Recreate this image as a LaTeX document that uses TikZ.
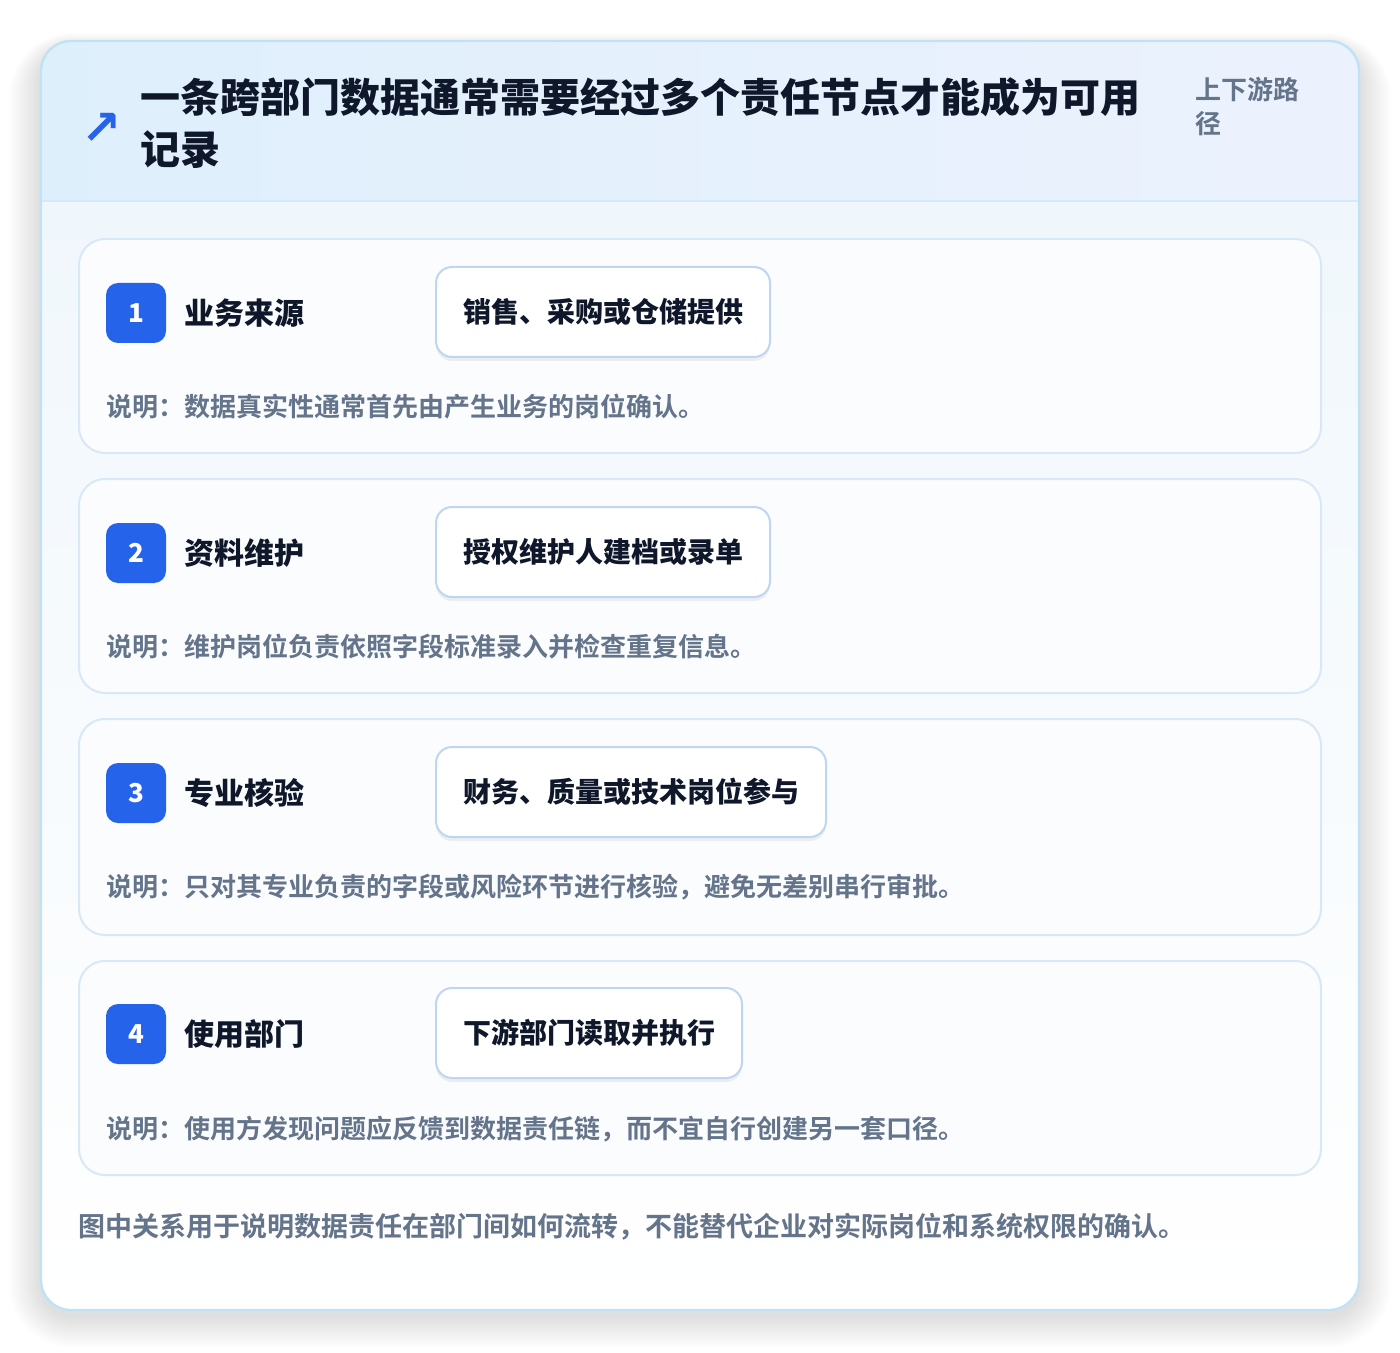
\documentclass[tikz,border=0pt]{standalone}
\usepackage{fontspec}
\setmainfont{Noto Sans CJK SC}[BoldFont=* Bold]
\newfontfamily\heavyfont{Noto Sans CJK SC Black}
\newfontfamily\symfont{DejaVu Sans}[BoldFont=* Bold]
\usetikzlibrary{positioning,shadows}

\definecolor{inkdark}{HTML}{0F172A}
\definecolor{inkmuted}{HTML}{64748B}
\definecolor{accentblue}{HTML}{2563EB}
\definecolor{hdrleft}{HTML}{DEEFFC}
\definecolor{hdrright}{HTML}{ECF2FD}
\definecolor{bodytop}{HTML}{F0F7FC}
\definecolor{frameline}{HTML}{BFE2F5}
\definecolor{cardfill}{HTML}{FAFCFE}
\definecolor{cardline}{HTML}{D8E8F6}
\definecolor{chipline}{HTML}{BED6F1}

\tikzset{
  stepcard/.style={draw=cardline, fill=cardfill, line width=1pt, rounded corners=13pt},
  badgebox/.style={fill=accentblue, text=white, rounded corners=6pt, minimum size=30pt,
    inner sep=0pt, font=\fontsize{13pt}{15pt}\selectfont\heavyfont},
  steplabel/.style={anchor=west, inner sep=0pt, text=inkdark,
    font=\fontsize{15pt}{18pt}\selectfont\heavyfont},
  chipbox/.style={anchor=west, draw=chipline, fill=white, line width=1pt, rounded corners=8pt,
    minimum height=45pt, inner xsep=13.5pt, text=inkdark,
    font=\fontsize{14pt}{17pt}\selectfont\heavyfont,
    drop shadow={shadow xshift=0pt, shadow yshift=-2pt, opacity=0.06, fill=black}},
  notetext/.style={anchor=west, inner sep=0pt, text=inkmuted,
    font=\fontsize{13pt}{16pt}\selectfont\bfseries},
}

\begin{document}
\begin{tikzpicture}[x=0.5pt, y=-0.5pt]
    \useasboundingbox (0,0) rectangle (1400,1352);
    \fill[white] (0,0) rectangle (1400,1352);

    % Soft shadow round the outer frame
    \foreach \g in {1,...,16}
      \fill[black, opacity=0.006, rounded corners=16pt+\g pt]
        (41-2*\g,41-\g+8) rectangle (1359+2*\g,1310+2*\g+6);

    % Outer frame with header band and body
    \begin{scope}
      \clip[rounded corners=15pt] (41,41) rectangle (1359,1310);
      \shade[left color=hdrleft, right color=hdrright] (41,41) rectangle (1359,201);
      \shade[top color=bodytop, bottom color=white] (41,201) rectangle (1359,1310);
      \draw[frameline!70, line width=1pt] (41,201) -- (1359,201);
    \end{scope}
    \draw[frameline, line width=1.2pt, rounded corners=15pt] (41,41) rectangle (1359,1310);

    % Header: icon, title and side tag
    \node[text=accentblue, inner sep=0pt, font=\symfont\bfseries\fontsize{24pt}{24pt}\selectfont] (icon) at (102,129) {↗};
    \node[anchor=north west, inner sep=0pt, align=left, text=inkdark,
      font=\fontsize{20pt}{26pt}\selectfont\heavyfont] (title) at (140,77)
      {一条跨部门数据通常需要经过多个责任节点才能成为可用\\记录};
    \node[anchor=north west, inner sep=0pt, align=left, text=inkmuted,
      font=\fontsize{13pt}{17pt}\selectfont\bfseries] (sidetag) at (1195,77)
      {上下游路\\径};

    % Step 1
    \draw[stepcard] (79,239) rectangle (1321,453);
    \node[badgebox] (badge1) at (136,313) {1};
    \node[steplabel] (label1) at (184,313) {业务来源};
    \node[chipbox] (chip1) at (435,312) {销售、采购或仓储提供};
    \node[notetext] (note1) at (106,407) {说明：数据真实性通常首先由产生业务的岗位确认。};

    % Step 2
    \draw[stepcard] (79,479) rectangle (1321,693);
    \node[badgebox] (badge2) at (136,553) {2};
    \node[steplabel] (label2) at (184,553) {资料维护};
    \node[chipbox] (chip2) at (435,552) {授权维护人建档或录单};
    \node[notetext] (note2) at (106,647) {说明：维护岗位负责依照字段标准录入并检查重复信息。};

    % Step 3
    \draw[stepcard] (79,719) rectangle (1321,935);
    \node[badgebox] (badge3) at (136,793) {3};
    \node[steplabel] (label3) at (184,793) {专业核验};
    \node[chipbox] (chip3) at (435,792) {财务、质量或技术岗位参与};
    \node[notetext] (note3) at (106,887) {说明：只对其专业负责的字段或风险环节进行核验，避免无差别串行审批。};

    % Step 4
    \draw[stepcard] (79,961) rectangle (1321,1175);
    \node[badgebox] (badge4) at (136,1034) {4};
    \node[steplabel] (label4) at (184,1034) {使用部门};
    \node[chipbox] (chip4) at (435,1033) {下游部门读取并执行};
    \node[notetext] (note4) at (106,1129) {说明：使用方发现问题应反馈到数据责任链，而不宜自行创建另一套口径。};

    % Footer remark
    \node[anchor=west, inner sep=0pt, text=inkmuted, font=\fontsize{13.5pt}{16pt}\selectfont\bfseries]
      (remark) at (78,1227) {图中关系用于说明数据责任在部门间如何流转，不能替代企业对实际岗位和系统权限的确认。};
\end{tikzpicture}
\end{document}
